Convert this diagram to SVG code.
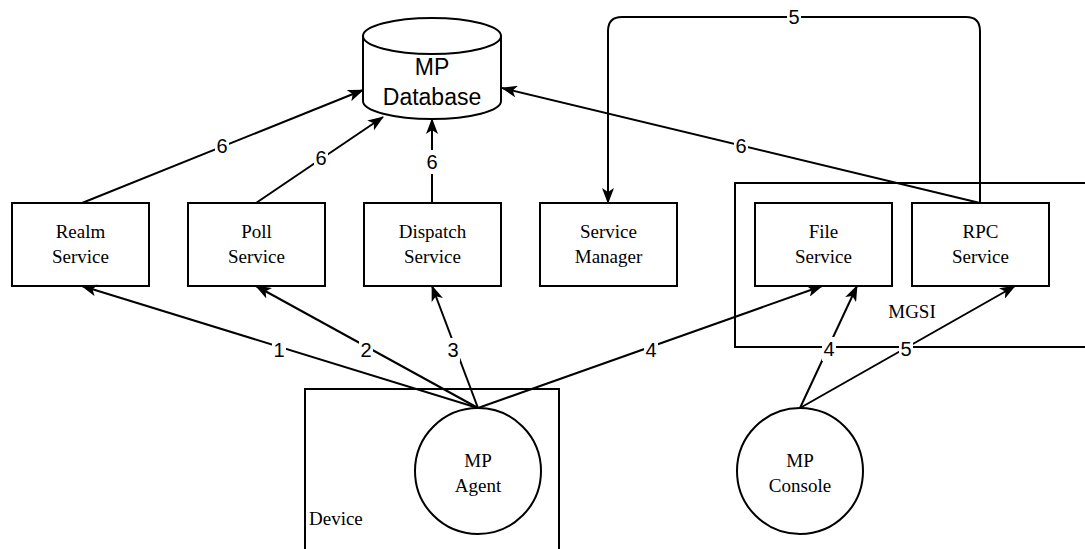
<svg xmlns="http://www.w3.org/2000/svg" width="1085" height="549" viewBox="0 0 1085 549">
  <style>
    .box { fill: #ffffff; stroke: #000000; stroke-width: 2; }
    .frame { fill: none; stroke: #000000; stroke-width: 2; }
    .edge { fill: none; stroke: #000000; stroke-width: 2; marker-end: url(#arrow); }
    .plain { fill: none; stroke: #000000; stroke-width: 2; }
    .serif { font-family: "Liberation Serif", "Times New Roman", serif; font-size: 19px; fill: #000000; text-anchor: middle; }
    .sans { font-family: "Liberation Sans", Arial, sans-serif; font-size: 23px; fill: #000000; text-anchor: middle; }
    .lbl { font-family: "Liberation Sans", Arial, sans-serif; font-size: 20px; fill: #000000; text-anchor: middle; dominant-baseline: central; }
    .lblbg { fill: #ffffff; }
  </style>
  <defs>
    <marker id="arrow" viewBox="0 0 16 12" refX="15" refY="6" markerWidth="16" markerHeight="12" markerUnits="userSpaceOnUse" orient="auto">
      <path d="M0,0 L16,6 L0,12 L4,6 Z" fill="#000000"/>
    </marker>
  </defs>
  <rect width="1085" height="549" fill="#ffffff"/>

  <!-- containers -->
  <g id="mgsi">
    <rect class="frame" x="735" y="183" width="360" height="164"/>
    <text class="serif" x="912" y="318">MGSI</text>
  </g>
  <g id="device">
    <rect class="frame" x="305" y="389" width="254" height="180"/>
    <text class="serif" x="309" y="525" style="text-anchor:start">Device</text>
  </g>

  <!-- nodes -->
  <g id="mp-database">
    <path class="box" d="M363,36 A69,18 0 0 1 501,36 L501,101 A69,18 0 0 1 363,101 Z"/>
    <path class="plain" d="M363,36 A69,18 0 0 0 501,36"/>
    <text class="sans" x="432" y="75">MP</text>
    <text class="sans" x="432" y="105">Database</text>
  </g>
  <g id="realm-service">
    <rect class="box" x="12" y="203" width="137" height="83"/>
    <text class="serif" x="80.5" y="238">Realm</text>
    <text class="serif" x="80.5" y="263">Service</text>
  </g>
  <g id="poll-service">
    <rect class="box" x="188" y="203" width="137" height="83"/>
    <text class="serif" x="256.5" y="238">Poll</text>
    <text class="serif" x="256.5" y="263">Service</text>
  </g>
  <g id="dispatch-service">
    <rect class="box" x="364" y="203" width="137" height="83"/>
    <text class="serif" x="432.5" y="238">Dispatch</text>
    <text class="serif" x="432.5" y="263">Service</text>
  </g>
  <g id="service-manager">
    <rect class="box" x="540" y="203" width="137" height="83"/>
    <text class="serif" x="608.5" y="238">Service</text>
    <text class="serif" x="608.5" y="263">Manager</text>
  </g>
  <g id="file-service">
    <rect class="box" x="755" y="203" width="137" height="83"/>
    <text class="serif" x="823.5" y="238">File</text>
    <text class="serif" x="823.5" y="263">Service</text>
  </g>
  <g id="rpc-service">
    <rect class="box" x="912" y="203" width="137" height="83"/>
    <text class="serif" x="980.5" y="238">RPC</text>
    <text class="serif" x="980.5" y="263">Service</text>
  </g>
  <g id="mp-agent">
    <circle class="box" cx="478" cy="471" r="63"/>
    <text class="serif" x="478" y="467">MP</text>
    <text class="serif" x="478" y="492">Agent</text>
  </g>
  <g id="mp-console">
    <circle class="box" cx="800" cy="471" r="63"/>
    <text class="serif" x="800" y="467">MP</text>
    <text class="serif" x="800" y="492">Console</text>
  </g>

  <!-- connectors -->
  <g id="connectors">
    <path class="edge" d="M82,203 L363,90"/>
    <path class="edge" d="M256,203 L383,117"/>
    <path class="edge" d="M432,203 L432,119"/>
    <path class="edge" d="M980,203 L502,88"/>
    <path class="edge" d="M980,203 L980,31 Q980,17 966,17 L622,17 Q608,17 608,31 L608,203"/>
    <path class="edge" d="M478,408 L82,286"/>
    <path class="edge" d="M478,408 L256,286"/>
    <path class="edge" d="M478,408 L432,286"/>
    <path class="edge" d="M478,408 L822,286"/>
    <path class="edge" d="M800,408 L857,286"/>
    <path class="edge" d="M800,408 L1015,286"/>

    <!-- edge labels -->
    <rect class="lblbg" x="215" y="134" width="14" height="24"/>
    <text class="lbl" x="222" y="146">6</text>
    <rect class="lblbg" x="314" y="146" width="14" height="24"/>
    <text class="lbl" x="321" y="158">6</text>
    <rect class="lblbg" x="425" y="150" width="14" height="24"/>
    <text class="lbl" x="432" y="162">6</text>
    <rect class="lblbg" x="734" y="134" width="14" height="24"/>
    <text class="lbl" x="741" y="146">6</text>
    <rect class="lblbg" x="787" y="5" width="14" height="24"/>
    <text class="lbl" x="794" y="17">5</text>
    <rect class="lblbg" x="272" y="338" width="14" height="24"/>
    <text class="lbl" x="279" y="350">1</text>
    <rect class="lblbg" x="359" y="338" width="14" height="24"/>
    <text class="lbl" x="366" y="350">2</text>
    <rect class="lblbg" x="446" y="338" width="14" height="24"/>
    <text class="lbl" x="453" y="350">3</text>
    <rect class="lblbg" x="644" y="338" width="14" height="24"/>
    <text class="lbl" x="651" y="350">4</text>
    <rect class="lblbg" x="822" y="337" width="14" height="24"/>
    <text class="lbl" x="829" y="349">4</text>
    <rect class="lblbg" x="899" y="337" width="14" height="24"/>
    <text class="lbl" x="906" y="349">5</text>
  </g>
</svg>
